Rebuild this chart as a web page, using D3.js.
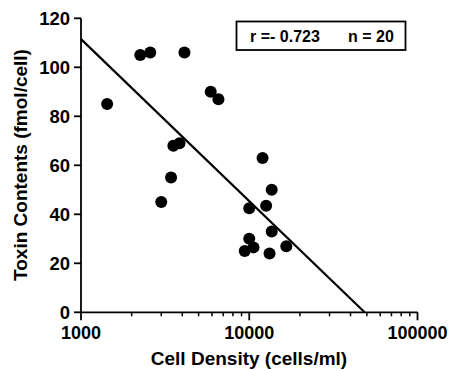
<!DOCTYPE html>
<html><head><meta charset="utf-8">
<script src="https://cdn.jsdelivr.net/npm/d3@7"></script>
<style>body{margin:0;background:#fff}svg{display:block}text{font-family:"Liberation Sans",Arial,sans-serif;font-weight:bold;fill:#000}</style>
</head><body>
<script>
const cellDensity = [1430, 2250, 2580, 4120, 5900, 6560, 3540, 3850, 3430, 3000, 12000, 13600, 12600, 10000, 13600, 10000, 10600, 9400, 13200, 16600];
const toxin = [85, 105, 106, 106, 90, 87, 68, 69, 55, 45, 63, 50, 43.5, 42.5, 33, 30, 26.5, 25, 24, 27];
const fitX = [1000, 48500];
const fitY = [111.5, 0];
const xTicks = [1000, 10000, 100000];
const yTicks = [0, 20, 40, 60, 80, 100, 120];
const statsR = "r =- 0.723";
const statsN = "n = 20";

const W = 452, H = 370;
const svg = d3.select("body").append("svg").attr("width", W).attr("height", H);
const x = d3.scaleLog().domain([1000, 100000]).range([81, 417.5]);
const y = d3.scaleLinear().domain([0, 120]).range([312.3, 18.3]);

// x axis
const minor = [];
for (let d = 1000; d < 100000; d *= 10) for (let k = 2; k <= 9; k++) minor.push(d * k);
const gx = svg.append("g").attr("transform", `translate(0,${y(0)})`);
gx.append("line").attr("x1", x(1000)).attr("x2", x(100000)).attr("stroke", "#000").attr("stroke-width", 1.8);
gx.selectAll(".mj").data(xTicks).join("line").attr("x1", d => x(d)).attr("x2", d => x(d)).attr("y1", 0).attr("y2", 8).attr("stroke", "#000").attr("stroke-width", 1.8);
gx.selectAll(".mn").data(minor).join("line").attr("x1", d => x(d)).attr("x2", d => x(d)).attr("y1", 0).attr("y2", 4).attr("stroke", "#000").attr("stroke-width", 1.5);
gx.selectAll("text").data(xTicks).join("text").attr("x", d => x(d)).attr("y", 27).attr("text-anchor", "middle").attr("font-size", 18).text(d => d);

// y axis
const gy = svg.append("g").attr("transform", `translate(${x(1000)},0)`);
gy.append("line").attr("y1", y(0)).attr("y2", y(120)).attr("stroke", "#000").attr("stroke-width", 1.8);
gy.selectAll(".t").data(yTicks).join("line").attr("x1", -7).attr("x2", 0).attr("y1", d => y(d)).attr("y2", d => y(d)).attr("stroke", "#000").attr("stroke-width", 1.8);
gy.selectAll("text").data(yTicks).join("text").attr("x", -11).attr("y", d => y(d) + 6.5).attr("text-anchor", "end").attr("font-size", 18.5).text(d => d);

// titles
svg.append("text").attr("x", 249).attr("y", 364.5).attr("text-anchor", "middle").attr("font-size", 19).text("Cell Density (cells/ml)");
svg.append("text").attr("transform", "translate(27,165) rotate(-90)").attr("text-anchor", "middle").attr("font-size", 19).text("Toxin Contents (fmol/cell)");

// fit line
svg.append("line").attr("x1", x(fitX[0])).attr("y1", y(fitY[0])).attr("x2", x(fitX[1])).attr("y2", y(fitY[1])).attr("stroke", "#000").attr("stroke-width", 2.2);

// points
svg.selectAll("circle").data(cellDensity.map((c, i) => [c, toxin[i]])).join("circle")
  .attr("cx", d => x(d[0])).attr("cy", d => y(d[1])).attr("r", 6).attr("fill", "#000");

// stats box
svg.append("rect").attr("x", 236.5).attr("y", 21.5).attr("width", 169).attr("height", 28.5).attr("fill", "#fff").attr("stroke", "#000").attr("stroke-width", 1.8);
svg.append("text").attr("x", 250).attr("y", 41.5).attr("font-size", 16).text(statsR);
svg.append("text").attr("x", 348).attr("y", 41.5).attr("font-size", 16).text(statsN);
</script>
</body></html>
